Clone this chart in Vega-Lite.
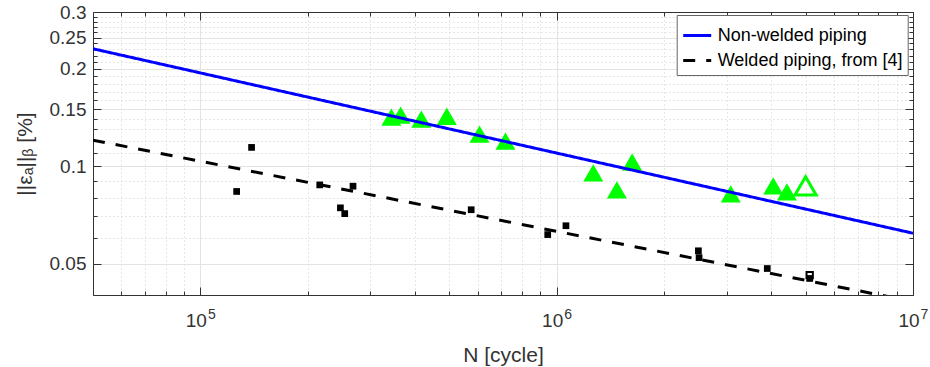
{
  "$schema": "https://vega.github.io/schema/vega-lite/v6.json",
  "width": 820,
  "height": 283,
  "autosize": {"type": "none"},
  "padding": {"left": 93, "top": 12, "right": 17, "bottom": 72},
  "background": "white",
  "config": {
    "font": "Liberation Sans",
    "view": {"stroke": null},
    "axis": {
      "labelFont": "Liberation Sans",
      "labelFontSize": 19,
      "labelColor": "#333333",
      "titleFont": "Liberation Sans",
      "titleFontSize": 21,
      "titleFontWeight": "normal",
      "titleColor": "#333333",
      "domainColor": "#333333",
      "tickColor": "#333333",
      "gridColor": "#e3e3e3",
      "labelFlush": false,
      "labelOverlap": false
    }
  },
  "datasets": {
    "tri": [
      {"N": 343700, "eps": 0.1419},
      {"N": 365000, "eps": 0.1439},
      {"N": 417100, "eps": 0.1399},
      {"N": 491800, "eps": 0.1428},
      {"N": 607500, "eps": 0.1258},
      {"N": 718300, "eps": 0.1197},
      {"N": 1267000, "eps": 0.0954},
      {"N": 1476000, "eps": 0.0846},
      {"N": 1629000, "eps": 0.1031},
      {"N": 3080000, "eps": 0.0822},
      {"N": 4053000, "eps": 0.087},
      {"N": 4428000, "eps": 0.0834}
    ],
    "hollowTri": [{"N": 4995000, "eps": 0.087}],
    "sq": [
      {"N": 126500, "eps": 0.0836},
      {"N": 139300, "eps": 0.1144},
      {"N": 216400, "eps": 0.0876},
      {"N": 247300, "eps": 0.0744},
      {"N": 254300, "eps": 0.0714},
      {"N": 268300, "eps": 0.0868},
      {"N": 575700, "eps": 0.0734},
      {"N": 944000, "eps": 0.0615},
      {"N": 1062000, "eps": 0.0655},
      {"N": 2499000, "eps": 0.0548},
      {"N": 2510000, "eps": 0.0522},
      {"N": 3900000, "eps": 0.0483},
      {"N": 5130000, "eps": 0.045}
    ],
    "hollowSq": [{"N": 5130000, "eps": 0.0461}],
    "lines": [
      {"N": 50000, "eps": 0.2309, "series": "Non-welded piping"},
      {"N": 10000000, "eps": 0.0621, "series": "Non-welded piping"},
      {"N": 50000, "eps": 0.1205, "series": "Welded piping, from [4]"},
      {"N": 10000000, "eps": 0.0382, "series": "Welded piping, from [4]"}
    ]
  },
  "resolve": {"axis": {"x": "independent", "y": "independent"}},
  "layer": [
    {
      "data": {"name": "tri"},
      "mark": {"type": "point", "shape": "triangle-up", "filled": true, "color": "#00ff00", "size": 400, "opacity": 1},
      "encoding": {
        "x": {"field": "N", "type": "quantitative",
          "scale": {"type": "log", "domain": [50000, 10000000], "nice": false},
          "axis": {"orient": "bottom", "title": null, "labels": false, "domain": false, "tickSize": -4, "grid": true, "gridDash": [1, 3], "gridColor": "#cfcfcf",
            "values": [60000, 70000, 80000, 90000, 200000, 300000, 400000, 500000, 600000, 700000, 800000, 900000, 2000000, 3000000, 4000000, 5000000, 6000000, 7000000, 8000000, 9000000]}},
        "y": {"field": "eps", "type": "quantitative",
          "scale": {"type": "log", "domain": [0.04, 0.3], "nice": false},
          "axis": {"orient": "left", "title": null, "labels": false, "domain": false, "tickSize": -4, "grid": true, "gridDash": [1, 3], "gridColor": "#cfcfcf",
            "values": [0.04, 0.06, 0.07, 0.08, 0.09, 0.11, 0.12, 0.13, 0.14, 0.16, 0.17, 0.18, 0.19, 0.21, 0.22, 0.23, 0.24, 0.26, 0.27, 0.28, 0.29]}}
      }
    },
    {
      "data": {"name": "hollowTri"},
      "mark": {"type": "point", "shape": "triangle-up", "filled": false, "stroke": "#00ff00", "strokeWidth": 3, "size": 450, "opacity": 1},
      "encoding": {
        "x": {"field": "N", "type": "quantitative",
          "scale": {"type": "log", "domain": [50000, 10000000], "nice": false},
          "axis": {"orient": "top", "title": null, "labels": false, "domain": false, "tickSize": -4, "grid": false,
            "values": [60000, 70000, 80000, 90000, 200000, 300000, 400000, 500000, 600000, 700000, 800000, 900000, 2000000, 3000000, 4000000, 5000000, 6000000, 7000000, 8000000, 9000000]}},
        "y": {"field": "eps", "type": "quantitative",
          "scale": {"type": "log", "domain": [0.04, 0.3], "nice": false},
          "axis": {"orient": "right", "title": null, "labels": false, "domain": false, "tickSize": -4, "grid": false,
            "values": [0.04, 0.06, 0.07, 0.08, 0.09, 0.11, 0.12, 0.13, 0.14, 0.16, 0.17, 0.18, 0.19, 0.21, 0.22, 0.23, 0.24, 0.26, 0.27, 0.28, 0.29]}}
      }
    },
    {
      "data": {"name": "sq"},
      "mark": {"type": "square", "filled": true, "color": "#000000", "size": 45, "opacity": 1},
      "encoding": {
        "x": {"field": "N", "type": "quantitative",
          "scale": {"type": "log", "domain": [50000, 10000000], "nice": false},
          "axis": {"orient": "top", "title": null, "labels": false, "domain": true, "tickSize": -8, "grid": false,
            "values": [100000, 1000000, 10000000]}},
        "y": {"field": "eps", "type": "quantitative",
          "scale": {"type": "log", "domain": [0.04, 0.3], "nice": false},
          "axis": {"orient": "right", "title": null, "labels": false, "domain": true, "tickSize": -8, "grid": false,
            "values": [0.05, 0.1, 0.15, 0.2, 0.25, 0.3]}}
      }
    },
    {
      "data": {"name": "hollowSq"},
      "mark": {"type": "point", "shape": "square", "filled": false, "stroke": "#000000", "strokeWidth": 2, "size": 40, "opacity": 1},
      "encoding": {
        "x": {"field": "N", "type": "quantitative",
          "scale": {"type": "log", "domain": [50000, 10000000], "nice": false},
          "axis": {"orient": "bottom", "title": null, "domain": false, "ticks": false, "grid": false,
            "values": [100000, 1000000, 10000000],
            "labelExpr": "'' + round(log(datum.value) / LN10)",
            "labelFontSize": 14, "labelOffset": 11, "labelPadding": 12}},
        "y": {"field": "eps", "type": "quantitative",
          "scale": {"type": "log", "domain": [0.04, 0.3], "nice": false},
          "axis": null}
      }
    },
    {
      "data": {"name": "lines"},
      "mark": {"type": "line", "strokeWidth": 3, "clip": true},
      "encoding": {
        "x": {"field": "N", "type": "quantitative",
          "scale": {"type": "log", "domain": [50000, 10000000], "nice": false},
          "axis": {"orient": "bottom", "title": "N [cycle]", "titlePadding": 14, "domain": true, "tickSize": -8, "labelPadding": 24, "grid": true,
            "values": [100000, 1000000, 10000000],
            "labelExpr": "'10'", "labelOffset": -4.5}},
        "y": {"field": "eps", "type": "quantitative",
          "scale": {"type": "log", "domain": [0.04, 0.3], "nice": false},
          "axis": {"orient": "left", "title": "||εₐ||ᵦ [%]", "titlePadding": 14, "domain": true, "tickSize": -8, "labelPadding": 15, "grid": true,
            "values": [0.05, 0.1, 0.15, 0.2, 0.25, 0.3], "format": "~g"}},
        "color": {"field": "series", "type": "nominal",
          "scale": {"domain": ["Non-welded piping", "Welded piping, from [4]"], "range": ["#0000ff", "#000000"]},
          "legend": {"orient": "none", "legendX": 583.7, "legendY": 3, "title": null, "fillColor": "#ffffff", "strokeColor": "#666666", "padding": 5,
            "labelFont": "Liberation Sans", "labelFontSize": 18, "labelColor": "#000000", "labelLimit": 400, "symbolType": "stroke", "symbolSize": 784, "symbolStrokeWidth": 3, "labelOffset": 5, "rowPadding": -8.7}},
        "strokeDash": {"field": "series", "type": "nominal",
          "scale": {"domain": ["Non-welded piping", "Welded piping, from [4]"], "range": [[1, 0], [12, 11]]},
          "legend": {"orient": "none", "legendX": 583.7, "legendY": 3, "title": null, "fillColor": "#ffffff", "strokeColor": "#666666", "padding": 5,
            "labelFont": "Liberation Sans", "labelFontSize": 18, "labelColor": "#000000", "labelLimit": 400, "symbolType": "stroke", "symbolSize": 784, "symbolStrokeWidth": 3, "labelOffset": 5, "rowPadding": -8.7}}
      }
    }
  ]
}
